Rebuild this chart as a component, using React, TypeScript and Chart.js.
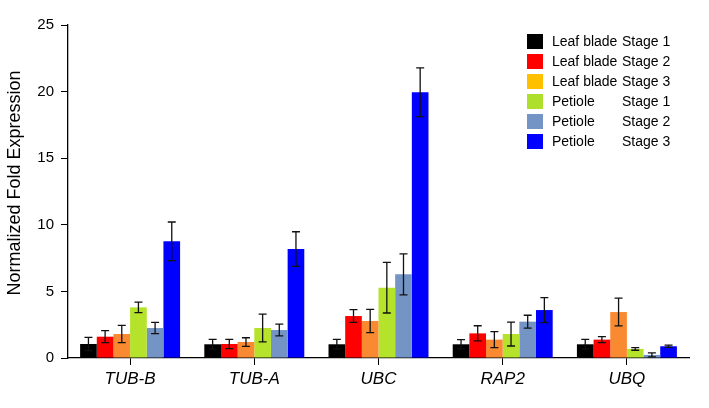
import React, { useEffect, useRef } from "react";
import { Chart, registerables } from "chart.js";

Chart.register(...registerables);

const categories = ["TUB-B", "TUB-A", "UBC", "RAP2", "UBQ"];
const tissues = ["Leaf blade", "Leaf blade", "Leaf blade", "Petiole", "Petiole", "Petiole"];
const stages = ["Stage 1", "Stage 2", "Stage 3", "Stage 1", "Stage 2", "Stage 3"];
const yAxisTitle = "Normalized Fold Expression";

const leafStage1 = [1.05, 1.03, 1.03, 1.03, 1.03];
const leafStage2 = [1.6, 1.05, 3.15, 1.85, 1.38];
const leafStage3 = [1.8, 1.2, 2.78, 1.38, 3.45];
const petioleStage1 = [3.8, 2.25, 5.28, 1.8, 0.68];
const petioleStage2 = [2.25, 2.1, 6.28, 2.73, 0.23];
const petioleStage3 = [8.76, 8.18, 19.95, 3.6, 0.88];

const errLeaf1 = [0.5, 0.37, 0.37, 0.35, 0.37];
const errLeaf2 = [0.45, 0.35, 0.48, 0.57, 0.23];
const errLeaf3 = [0.65, 0.32, 0.87, 0.6, 1.04];
const errPet1 = [0.4, 1.04, 1.9, 0.9, 0.1];
const errPet2 = [0.42, 0.44, 1.54, 0.48, 0.15];
const errPet3 = [1.45, 1.3, 1.83, 0.94, 0.08];

const seriesValues = [leafStage1, leafStage2, leafStage3, petioleStage1, petioleStage2, petioleStage3];
const seriesErrors = [errLeaf1, errLeaf2, errLeaf3, errPet1, errPet2, errPet3];
const barColors = ["#000000", "#ff0000", "#f98a32", "#b5e22a", "#7394c4", "#0000ff"];
const legendColors = ["#000000", "#ff0000", "#ffc000", "#addf2c", "#7394c4", "#0000ff"];

const FONT = "'Liberation Sans', Arial, sans-serif";

const errorBarPlugin = {
  id: "errorBars",
  afterDatasetsDraw(chart: any) {
    const ctx = chart.ctx;
    const yScale = chart.scales.y;
    ctx.save();
    ctx.strokeStyle = "#111111";
    ctx.lineWidth = 1.3;
    chart.data.datasets.forEach((ds: any, di: number) => {
      const meta = chart.getDatasetMeta(di);
      meta.data.forEach((bar: any, i: number) => {
        const v = ds.data[i];
        const e = seriesErrors[di][i];
        const x = bar.x;
        const yTop = yScale.getPixelForValue(v + e);
        const yBot = yScale.getPixelForValue(Math.max(v - e, 0));
        const cap = 4;
        ctx.beginPath();
        ctx.moveTo(x, yTop);
        ctx.lineTo(x, yBot);
        ctx.moveTo(x - cap, yTop);
        ctx.lineTo(x + cap, yTop);
        ctx.moveTo(x - cap, yBot);
        ctx.lineTo(x + cap, yBot);
        ctx.stroke();
      });
    });
    ctx.restore();
  },
};

const legendPlugin = {
  id: "customLegend",
  afterDraw(chart: any) {
    const ctx = chart.ctx;
    ctx.save();
    ctx.font = `14px ${FONT}`;
    ctx.textBaseline = "middle";
    ctx.textAlign = "left";
    for (let i = 0; i < tissues.length; i++) {
      const y = 34 + i * 20;
      ctx.fillStyle = legendColors[i];
      ctx.fillRect(527, y, 16, 15);
      ctx.fillStyle = "#000000";
      ctx.fillText(tissues[i], 552, y + 8);
      ctx.fillText(stages[i], 622, y + 8);
    }
    // y-axis title
    ctx.translate(15, 183);
    ctx.rotate(-Math.PI / 2);
    ctx.font = `18px ${FONT}`;
    ctx.textAlign = "center";
    ctx.fillText(yAxisTitle, 0, 0);
    ctx.restore();
  },
};

export default function App() {
  const ref = useRef<HTMLCanvasElement | null>(null);
  useEffect(() => {
    if (!ref.current) return;
    const chart = new Chart(ref.current, {
      type: "bar",
      data: {
        labels: categories,
        datasets: seriesValues.map((vals, i) => ({
          label: `${tissues[i]} ${stages[i]}`,
          data: vals,
          backgroundColor: barColors[i],
          borderWidth: 0,
          categoryPercentage: 0.805,
          barPercentage: 1.0,
        })),
      },
      options: {
        animation: false,
        responsive: true,
        maintainAspectRatio: false,
        layout: { padding: { top: 25, right: 20, bottom: 0, left: 0 } },
        plugins: {
          legend: { display: false },
          tooltip: { enabled: false },
        },
        scales: {
          x: {
            afterFit: (s: any) => {
              s.height = 50;
            },
            grid: {
              offset: false,
              drawOnChartArea: false,
              color: "#000000",
              tickLength: 7,
              lineWidth: 1,
            },
            border: { color: "#000000", width: 1.3 },
            ticks: {
              color: "#000000",
              padding: 4,
              font: { family: FONT, size: 17, style: "italic" },
            },
          },
          y: {
            min: 0,
            max: 25,
            afterFit: (s: any) => {
              s.width = 68;
            },
            grid: {
              drawOnChartArea: false,
              color: "#000000",
              tickLength: 7,
              lineWidth: 1,
            },
            border: { color: "#000000", width: 1.3 },
            ticks: {
              stepSize: 5,
              color: "#000000",
              padding: 7,
              font: { family: FONT, size: 15 },
            },
          },
        },
      },
      plugins: [errorBarPlugin, legendPlugin],
    });
    return () => chart.destroy();
  }, []);
  return (
    <div style={{ position: "fixed", left: 0, top: 0, width: 709, height: 408, background: "#ffffff" }}>
      <canvas ref={ref} />
    </div>
  );
}
